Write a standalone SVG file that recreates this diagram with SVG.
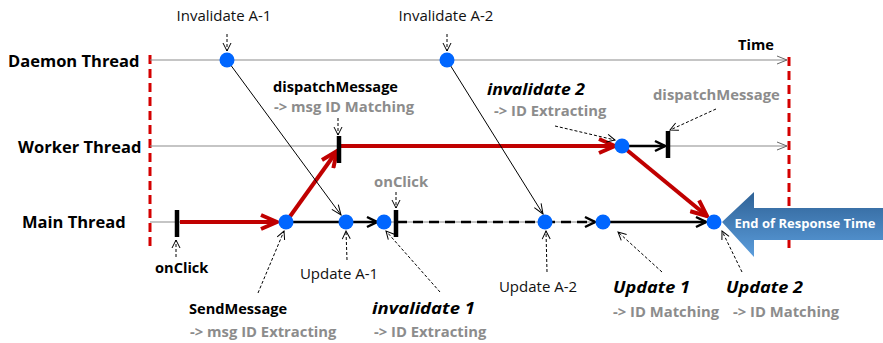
<svg xmlns="http://www.w3.org/2000/svg" width="883" height="343" viewBox="0 0 883 343">
  <style>
    text { font-family: "Open Sans", "Liberation Sans", sans-serif; }
    .thread { font-size: 16.5px; font-weight: bold; fill: #000; }
    .reg { font-size: 15px; fill: #111; text-anchor: middle; }
    .bold { font-size: 14.6px; font-weight: bold; fill: #000; }
    .boldit { font-size: 15.5px; font-weight: bold; font-style: italic; fill: #000; }
    .grey { font-size: 14.8px; font-weight: bold; fill: #8c8c8c; }
    .axis { stroke: #8c8c8c; stroke-width: 1.2; fill: none; }
    .bound { stroke: #d40000; stroke-width: 3; stroke-dasharray: 9 5; fill: none; }
    .red { stroke: #c00000; stroke-width: 4; fill: none; }
    .blk { stroke: #000; stroke-width: 2.5; fill: none; }
    .blkdash { stroke: #000; stroke-width: 2.5; stroke-dasharray: 10 6; fill: none; }
    .thin { stroke: #000; stroke-width: 1; fill: none; }
    .ptr { stroke: #000; stroke-width: 1; stroke-dasharray: 3 2; fill: none; }
    .tick { stroke: #000; stroke-width: 4.5; }
    .node { fill: #0066ff; }
  </style>
  <defs>
    <marker id="arRed" viewBox="0 0 20 18" refX="18" refY="9" markerWidth="20" markerHeight="18" markerUnits="userSpaceOnUse" orient="auto">
      <path d="M2,2 L18,9 L2,16" fill="none" stroke="#c00000" stroke-width="4" stroke-linejoin="miter"/>
    </marker>
    <marker id="arBlk" viewBox="0 0 14 14" refX="12" refY="7" markerWidth="14" markerHeight="14" markerUnits="userSpaceOnUse" orient="auto">
      <path d="M2,2 L12,7 L2,12" fill="none" stroke="#000" stroke-width="2.5"/>
    </marker>
    <marker id="arThin" viewBox="0 0 12 10" refX="11" refY="5" markerWidth="12" markerHeight="10" markerUnits="userSpaceOnUse" orient="auto">
      <path d="M1,1 L11,5 L1,9" fill="none" stroke="#000" stroke-width="1"/>
    </marker>
    <marker id="arGrey" viewBox="0 0 12 10" refX="11" refY="5" markerWidth="12" markerHeight="10" markerUnits="userSpaceOnUse" orient="auto">
      <path d="M1,1 L11,5 L1,9" fill="none" stroke="#666" stroke-width="1"/>
    </marker>
    <marker id="arPtr" viewBox="0 0 10 10" refX="9" refY="5" markerWidth="10" markerHeight="10" markerUnits="userSpaceOnUse" orient="auto">
      <path d="M1,1 L9,5 L1,9" fill="none" stroke="#000" stroke-width="1"/>
    </marker>
    <linearGradient id="blueArrow" x1="0" y1="0" x2="0" y2="1">
      <stop offset="0" stop-color="#2f6296"/>
      <stop offset="1" stop-color="#5b9ddc"/>
    </linearGradient>
  </defs>

  <!-- thread labels -->
  <g id="thread-labels">
    <text class="thread" x="8" y="67">Daemon Thread</text>
    <text class="thread" x="18" y="153">Worker Thread</text>
    <text class="thread" x="22" y="228">Main Thread</text>
  </g>

  <!-- observation window boundaries -->
  <g id="bounds">
    <line class="bound" x1="150" y1="55" x2="150" y2="250"/>
    <line class="bound" x1="789" y1="57" x2="789" y2="250"/>
  </g>

  <!-- time axes -->
  <g id="axes">
    <line class="axis" x1="150" y1="60" x2="787" y2="60" marker-end="url(#arGrey)"/>
    <line class="axis" x1="150" y1="146" x2="787" y2="146" marker-end="url(#arGrey)"/>
    <line class="axis" x1="150" y1="222" x2="714" y2="222"/>
    <text class="bold" x="738" y="50">Time</text>
  </g>

  <!-- connectors -->
  <g id="connectors">
    <!-- main thread flow -->
    <line class="red" x1="180" y1="222" x2="277" y2="222" marker-end="url(#arRed)"/>
    <line class="blk" x1="286" y1="222" x2="346" y2="222"/>
    <line class="blk" x1="346" y1="222" x2="377" y2="222" marker-end="url(#arBlk)"/>
    <line class="blkdash" x1="397" y1="222" x2="545" y2="222"/>
    <line class="blkdash" x1="545" y1="222" x2="595" y2="222" marker-end="url(#arBlk)"/>
    <line class="blk" x1="603" y1="222" x2="706" y2="222" marker-end="url(#arBlk)"/>
    <!-- message hand-off to worker and back -->
    <line class="red" x1="286" y1="222" x2="337" y2="151" marker-end="url(#arRed)"/>
    <line class="red" x1="340" y1="146" x2="615" y2="146" marker-end="url(#arRed)"/>
    <line class="blk" x1="622" y1="146" x2="665" y2="146" marker-end="url(#arBlk)"/>
    <line class="red" x1="622" y1="146" x2="707" y2="216" marker-end="url(#arRed)"/>
    <!-- daemon invalidations -->
    <line class="thin" x1="227" y1="60" x2="341" y2="215" marker-end="url(#arThin)"/>
    <line class="thin" x1="447" y1="60" x2="543" y2="214" marker-end="url(#arThin)"/>
    <!-- annotation pointers -->
    <line class="ptr" x1="227" y1="34" x2="227" y2="51" marker-end="url(#arPtr)"/>
    <line class="ptr" x1="447" y1="34" x2="447" y2="51" marker-end="url(#arPtr)"/>
    <line class="ptr" x1="338" y1="118" x2="338" y2="135" marker-end="url(#arPtr)"/>
    <line class="ptr" x1="555" y1="126" x2="615" y2="140" marker-end="url(#arPtr)"/>
    <line class="ptr" x1="716" y1="109" x2="670" y2="130" marker-end="url(#arPtr)"/>
    <line class="ptr" x1="396" y1="192" x2="396" y2="208" marker-end="url(#arPtr)"/>
    <line class="ptr" x1="176" y1="257" x2="176" y2="240" marker-end="url(#arPtr)"/>
    <line class="ptr" x1="347" y1="260" x2="346" y2="231" marker-end="url(#arPtr)"/>
    <line class="ptr" x1="258" y1="293" x2="284" y2="231" marker-end="url(#arPtr)"/>
    <line class="ptr" x1="440" y1="292" x2="386" y2="231" marker-end="url(#arPtr)"/>
    <line class="ptr" x1="547" y1="272" x2="546" y2="231" marker-end="url(#arPtr)"/>
    <line class="ptr" x1="662" y1="272" x2="618" y2="232" marker-end="url(#arPtr)"/>
    <line class="ptr" x1="742" y1="272" x2="722" y2="231" marker-end="url(#arPtr)"/>
  </g>

  <!-- daemon thread events -->
  <g id="invalidate-a1">
    <circle class="node" cx="227" cy="60" r="7.5"/>
    <text class="reg" x="224" y="21">Invalidate A-1</text>
  </g>
  <g id="invalidate-a2">
    <circle class="node" cx="447" cy="60" r="7.5"/>
    <text class="reg" x="446" y="21">Invalidate A-2</text>
  </g>

  <!-- worker thread events -->
  <g id="dispatch-message-1">
    <line class="tick" x1="339" y1="136" x2="339" y2="163"/>
    <text class="bold" x="273" y="92">dispatchMessage</text>
    <text class="grey" x="274" y="112">-&gt; msg ID Matching</text>
  </g>
  <g id="invalidate-2">
    <circle class="node" cx="622" cy="146" r="7.5"/>
    <text class="boldit" x="487" y="94.5" textLength="98" lengthAdjust="spacingAndGlyphs">invalidate 2</text>
    <text class="grey" x="494" y="115.5">-&gt; ID Extracting</text>
  </g>
  <g id="dispatch-message-2">
    <line class="tick" x1="668" y1="131" x2="668" y2="158"/>
    <text class="grey" x="653" y="100">dispatchMessage</text>
  </g>

  <!-- main thread events -->
  <g id="onclick-1">
    <line class="tick" x1="177" y1="210" x2="177" y2="237"/>
    <text class="bold" x="155" y="273">onClick</text>
  </g>
  <g id="send-message">
    <circle class="node" cx="286" cy="222" r="7.5"/>
    <text class="bold" x="189" y="314">SendMessage</text>
    <text class="grey" x="190" y="337">-&gt; msg ID Extracting</text>
  </g>
  <g id="update-a1">
    <circle class="node" cx="346" cy="222" r="7.5"/>
    <text class="reg" x="339" y="279">Update A-1</text>
  </g>
  <g id="invalidate-1">
    <circle class="node" cx="384" cy="222" r="7.5"/>
    <text class="boldit" x="372" y="314" textLength="103" lengthAdjust="spacingAndGlyphs">invalidate 1</text>
    <text class="grey" x="374" y="337">-&gt; ID Extracting</text>
  </g>
  <g id="onclick-2">
    <line class="tick" x1="396" y1="210" x2="396" y2="237"/>
    <text class="grey" x="374" y="187">onClick</text>
  </g>
  <g id="update-a2">
    <circle class="node" cx="545" cy="222" r="7.5"/>
    <text class="reg" x="538" y="292">Update A-2</text>
  </g>
  <g id="update-1">
    <circle class="node" cx="603" cy="222" r="7.5"/>
    <text class="boldit" x="613" y="293" textLength="77" lengthAdjust="spacingAndGlyphs">Update 1</text>
    <text class="grey" x="613" y="317">-&gt; ID Matching</text>
  </g>
  <g id="update-2">
    <circle class="node" cx="714" cy="222" r="7.5"/>
    <text class="boldit" x="726" y="293" textLength="77" lengthAdjust="spacingAndGlyphs">Update 2</text>
    <text class="grey" x="733" y="317">-&gt; ID Matching</text>
  </g>

  <!-- response end marker -->
  <g id="end-of-response">
    <polygon points="722,222 754,192 754,208 883,208 883,240 754,240 754,257" fill="url(#blueArrow)"/>
    <text x="805" y="228" text-anchor="middle" font-size="13" font-weight="bold" fill="#fff">End of Response Time</text>
  </g>
</svg>
